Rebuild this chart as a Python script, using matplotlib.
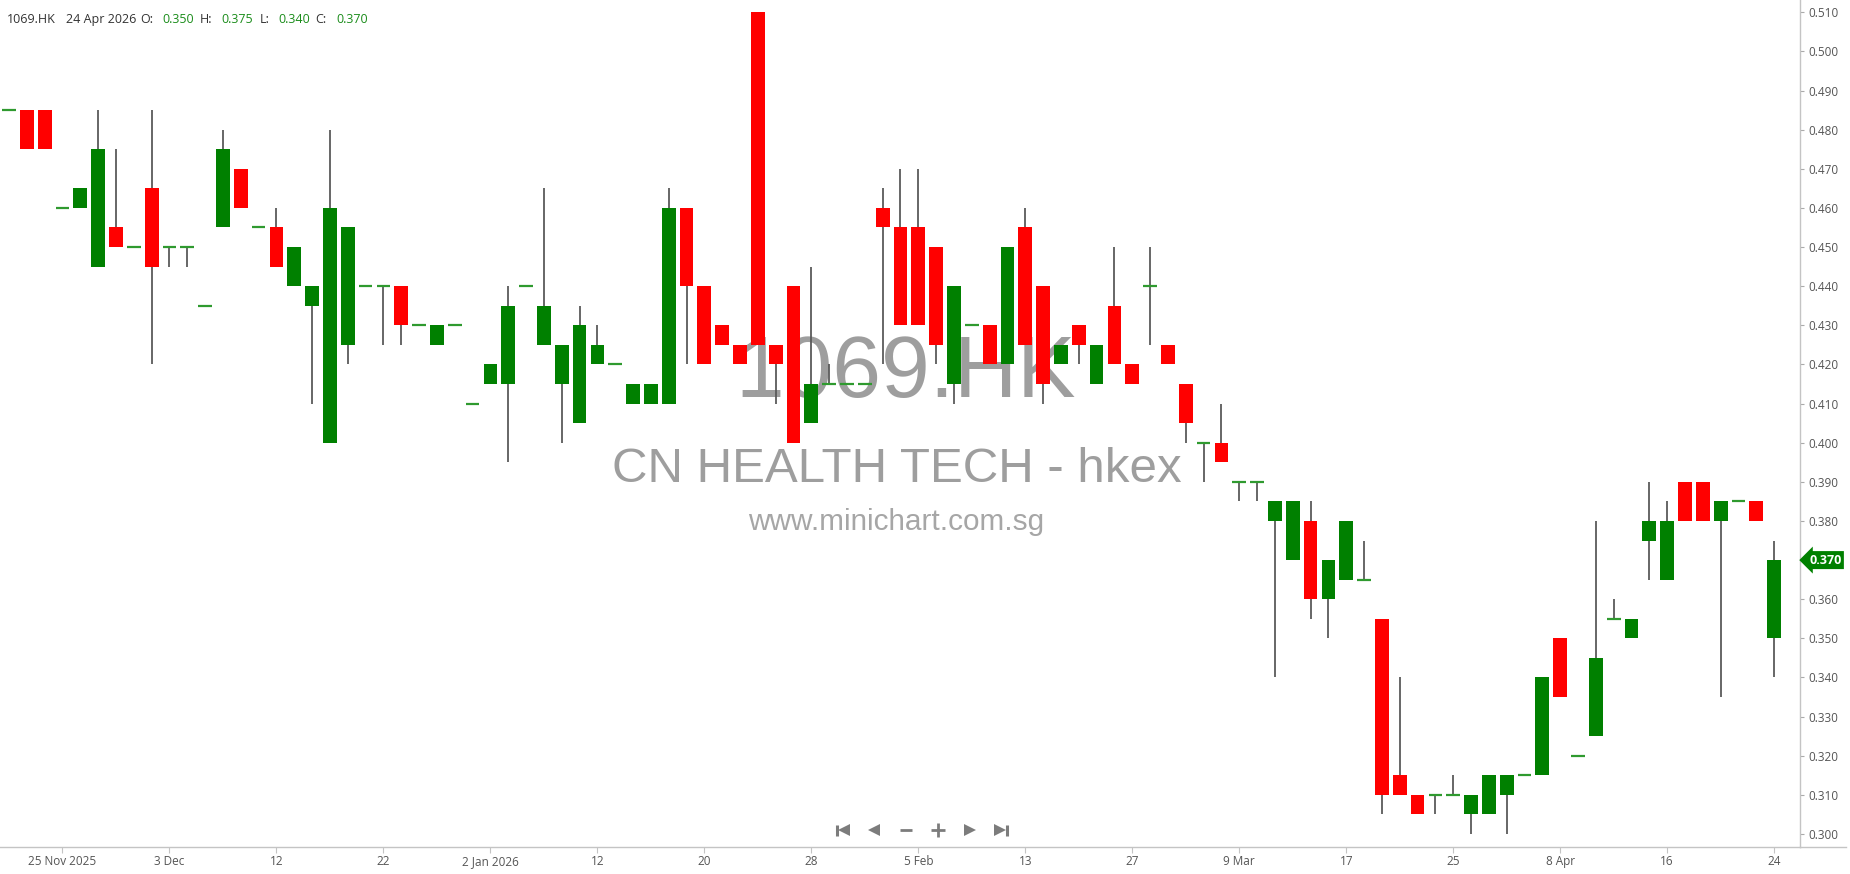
import matplotlib.pyplot as plt
import numpy as np
from matplotlib.lines import Line2D
import matplotlib.transforms as mtransforms

# daily OHLC, 1069.HK, 20 Nov 2025 .. 24 Apr 2026
opens = [0.485, 0.485, 0.485, 0.460, 0.460, 0.445, 0.455, 0.450, 0.465, 0.450,
         0.450, 0.435, 0.455, 0.470, 0.455, 0.455, 0.440, 0.435, 0.400, 0.425,
         0.440, 0.440, 0.440, 0.430, 0.425, 0.430, 0.410, 0.415, 0.415, 0.440,
         0.425, 0.415, 0.405, 0.420, 0.420, 0.410, 0.410, 0.410, 0.460, 0.440,
         0.430, 0.425, 0.510, 0.425, 0.440, 0.405, 0.415, 0.415, 0.415, 0.460,
         0.455, 0.455, 0.450, 0.415, 0.430, 0.430, 0.420, 0.455, 0.440, 0.420,
         0.430, 0.415, 0.435, 0.420, 0.440, 0.425, 0.415, 0.400, 0.400, 0.390,
         0.390, 0.380, 0.370, 0.380, 0.360, 0.365, 0.365, 0.355, 0.315, 0.310,
         0.310, 0.310, 0.305, 0.305, 0.310, 0.315, 0.315, 0.350, 0.320, 0.325,
         0.355, 0.350, 0.375, 0.365, 0.390, 0.390, 0.380, 0.385, 0.385, 0.350]
highs = [0.485, 0.485, 0.485, 0.460, 0.465, 0.485, 0.475, 0.450, 0.485, 0.450,
         0.450, 0.435, 0.480, 0.470, 0.455, 0.460, 0.450, 0.440, 0.480, 0.455,
         0.440, 0.440, 0.440, 0.430, 0.430, 0.430, 0.410, 0.420, 0.440, 0.440,
         0.465, 0.425, 0.435, 0.430, 0.420, 0.415, 0.415, 0.465, 0.460, 0.440,
         0.430, 0.425, 0.510, 0.425, 0.440, 0.445, 0.420, 0.415, 0.415, 0.465,
         0.470, 0.470, 0.450, 0.440, 0.430, 0.430, 0.450, 0.460, 0.440, 0.425,
         0.430, 0.425, 0.450, 0.420, 0.450, 0.425, 0.415, 0.400, 0.410, 0.390,
         0.390, 0.385, 0.385, 0.385, 0.370, 0.380, 0.375, 0.355, 0.340, 0.310,
         0.310, 0.315, 0.310, 0.315, 0.315, 0.315, 0.340, 0.350, 0.320, 0.380,
         0.360, 0.355, 0.390, 0.385, 0.390, 0.390, 0.385, 0.385, 0.385, 0.375]
lows = [0.485, 0.475, 0.475, 0.460, 0.460, 0.445, 0.450, 0.450, 0.420, 0.445,
        0.445, 0.435, 0.455, 0.460, 0.455, 0.445, 0.440, 0.410, 0.400, 0.420,
        0.440, 0.425, 0.425, 0.430, 0.425, 0.430, 0.410, 0.415, 0.395, 0.440,
        0.425, 0.400, 0.405, 0.420, 0.420, 0.410, 0.410, 0.410, 0.420, 0.420,
        0.425, 0.420, 0.425, 0.410, 0.400, 0.405, 0.415, 0.415, 0.415, 0.420,
        0.430, 0.430, 0.420, 0.410, 0.430, 0.420, 0.420, 0.425, 0.410, 0.420,
        0.420, 0.415, 0.420, 0.415, 0.425, 0.420, 0.400, 0.390, 0.395, 0.385,
        0.385, 0.340, 0.370, 0.355, 0.350, 0.365, 0.365, 0.305, 0.310, 0.305,
        0.305, 0.310, 0.300, 0.305, 0.300, 0.315, 0.315, 0.335, 0.320, 0.325,
        0.355, 0.350, 0.365, 0.365, 0.380, 0.380, 0.335, 0.385, 0.380, 0.340]
closes = [0.485, 0.475, 0.475, 0.460, 0.465, 0.475, 0.450, 0.450, 0.445, 0.450,
          0.450, 0.435, 0.475, 0.460, 0.455, 0.445, 0.450, 0.440, 0.460, 0.455,
          0.440, 0.440, 0.430, 0.430, 0.430, 0.430, 0.410, 0.420, 0.435, 0.440,
          0.435, 0.425, 0.430, 0.425, 0.420, 0.415, 0.415, 0.460, 0.440, 0.420,
          0.425, 0.420, 0.425, 0.420, 0.400, 0.415, 0.415, 0.415, 0.415, 0.455,
          0.430, 0.430, 0.425, 0.440, 0.430, 0.420, 0.450, 0.425, 0.415, 0.425,
          0.425, 0.425, 0.420, 0.415, 0.440, 0.420, 0.405, 0.400, 0.395, 0.390,
          0.390, 0.385, 0.385, 0.360, 0.370, 0.380, 0.365, 0.310, 0.310, 0.305,
          0.310, 0.310, 0.310, 0.315, 0.315, 0.315, 0.340, 0.335, 0.320, 0.345,
          0.355, 0.355, 0.380, 0.380, 0.380, 0.380, 0.385, 0.385, 0.380, 0.370]

# every 6th session gets a date label
date_labels = ['25 Nov 2025', '3 Dec', '12', '22', '2 Jan 2026', '12', '20', '28',
               '5 Feb', '13', '27', '9 Mar', '17', '25', '8 Apr', '16', '24']
label_sessions = [3, 9, 15, 21, 27, 33, 39, 45, 51, 57, 63, 69, 75, 81, 87, 93, 99]

symbol = '1069.HK'
name = 'CN HEALTH TECH - hkex'
last_date = '24 Apr 2026'

W, H = 1850, 874
fig = plt.figure(figsize=(W / 100, H / 100), dpi=100)
ax = fig.add_axes([0, 27 / H, 1800 / W, 847 / H])

o = np.array(opens)
h = np.array(highs)
l = np.array(lows)
c = np.array(closes)
x = np.arange(len(o))
up = c > o + 1e-9
down = c < o - 1e-9
flat = ~(up | down)
bw = 0.77

ax.vlines(x, l, h, color='#5a5a5a', lw=1.3, zorder=2)
ax.bar(x[up], (c - o)[up], bottom=o[up], width=bw, color='#008000', lw=0, zorder=3)
ax.bar(x[down], (o - c)[down], bottom=c[down], width=bw, color='#ff0000', lw=0, zorder=3)
ax.hlines(c[flat], x[flat] - bw / 2, x[flat] + bw / 2, color='#2f9a2f', lw=1.6, zorder=3)

ax.set_xlim(-0.505, 100.45)
ax.set_ylim(0.29668, 0.51313)

# watermark, behind the candles
wm = '#9e9e9e'
ax.text(0.503, 1 - 397 / 847, symbol, transform=ax.transAxes, ha='center', va='baseline',
        fontsize=63, color=wm, family='Liberation Sans', zorder=0)
ax.text(0.4983, 1 - 482 / 847, name, transform=ax.transAxes, ha='center', va='baseline',
        fontsize=35.5, color=wm, family='Liberation Sans', zorder=0)
ax.text(0.4978, 1 - 530 / 847, 'www.minichart.com.sg', transform=ax.transAxes, ha='center',
        va='baseline', fontsize=21.4, color='#a6a6a6', family='Liberation Sans', zorder=0)

# axes styling
for s in ['top', 'left']:
    ax.spines[s].set_visible(False)
for s in ['right', 'bottom']:
    ax.spines[s].set_color('#c4c4c4')
    ax.spines[s].set_linewidth(1)

ax.yaxis.tick_right()
ax.set_yticks(np.arange(0.300, 0.5101, 0.010))
ax.set_yticklabels(['%.3f' % v for v in np.arange(0.300, 0.5101, 0.010)])
ax.tick_params(axis='y', length=3, width=0.8, color='#aaaaaa', pad=3,
               labelsize=8.5, labelcolor='#555555')
ax.set_xticks(label_sessions)
ax.set_xticklabels(date_labels)
ax.tick_params(axis='x', length=4, width=0.8, color='#c4c4c4', pad=2,
               labelsize=8.5, labelcolor='#555555')
for t in ax.get_xticklabels() + ax.get_yticklabels():
    t.set_family('Open Sans')

# bottom line continues under the price scale
fig.add_artist(Line2D([1800 / W, 1846 / W], [27 / H, 27 / H], color='#c4c4c4', lw=1))

# last price tag
trans = mtransforms.blended_transform_factory(ax.transAxes, ax.transData)
ax.text(1.0, closes[-1], '%.3f' % closes[-1], transform=mtransforms.offset_copy(trans, fig, x=9, units='dots'),
        ha='left', va='center', color='white', fontsize=9, fontweight='bold', family='Open Sans',
        bbox=dict(boxstyle='larrow,pad=0.2', fc='#008000', ec='none'), clip_on=False, zorder=6)

# header line
def px(xp, yp):
    return xp / W, 1 - yp / H

hdr_y = 22.7
dark = '#333333'
grn = '#1a8c1a'
parts = [(6.7, symbol, dark), (66, last_date, dark),
         (140, 'O:', dark), (162, '%.3f' % opens[-1], grn),
         (200, 'H:', dark), (221, '%.3f' % highs[-1], grn),
         (260, 'L:', dark), (278, '%.3f' % lows[-1], grn),
         (315, 'C:', dark), (336, '%.3f' % closes[-1], grn)]
for xp, txt, col in parts:
    fx, fy = px(xp, hdr_y)
    fig.text(fx, fy, txt, ha='left', va='baseline', fontsize=9, color=col, family='Open Sans')

# navigation buttons under the chart
nav = fig.add_axes([0, 0, 1, 1], zorder=5)
nav.set_xlim(0, W)
nav.set_ylim(H, 0)
nav.axis('off')
nav.patch.set_alpha(0)
ic = '#7c7c7c'
ny = 830
nav.plot([837.3, 837.3], [824.5, 835.5], color=ic, lw=2.2, solid_capstyle='butt')
nav.plot([843.5], [ny], marker='<', ms=8, color=ic, mew=0)
nav.plot([873.5], [ny], marker='<', ms=8, color=ic, mew=0)
nav.plot([899.5, 911.5], [ny, ny], color=ic, lw=2, solid_capstyle='butt')
nav.plot([937.5], [ny], marker='+', ms=9.5, mew=2, color=ic)
nav.plot([969.5], [ny], marker='>', ms=8, color=ic, mew=0)
nav.plot([999.8], [ny], marker='>', ms=8, color=ic, mew=0)
nav.plot([1006.5, 1006.5], [824.5, 835.5], color=ic, lw=2.2, solid_capstyle='butt')

fig.savefig('out.png', dpi=100, facecolor='white')
